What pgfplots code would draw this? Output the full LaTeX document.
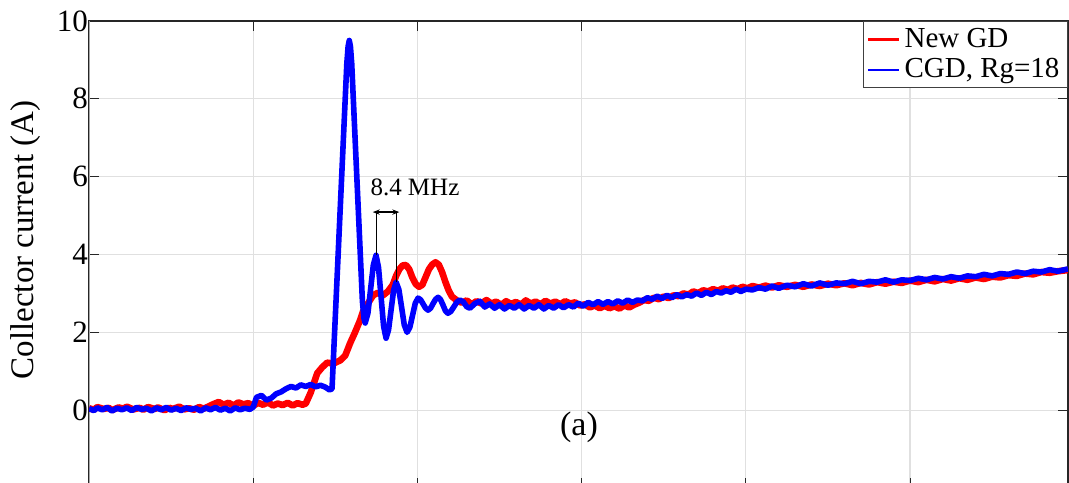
\documentclass[border=0pt]{standalone}
\usepackage{fontspec}
\setmainfont{Liberation Serif}
\usepackage{pgfplots}
\pgfplotsset{compat=1.18}
\usetikzlibrary{arrows.meta}
\definecolor{cNew}{RGB}{255,0,0}
\definecolor{cCGD}{RGB}{0,0,255}
\pgfplotsset{
  matlabish/.style={
    /pgf/number format/assume math mode=true,
    tick label style={font=\rmfamily\fontsize{15.5}{18}\selectfont},
    label style={font=\rmfamily\fontsize{16.5}{19}\selectfont},
    tick align=inside, major tick length=5pt,
    tick style={black!85, line width=0.5pt},
    axis line style={black!85, line width=0.6pt},
    grid=major, grid style={black!12, line width=0.6pt},
  },
}

\begin{document}
\begin{tikzpicture}
\begin{axis}[
    matlabish, name=ax,
    width=489.5pt, height=233.5pt, scale only axis,
    xmin=0, xmax=5.962, ymin=-2, ymax=10,
    xtick={0,1,...,5}, xticklabels={},
    ytick={0,2,...,10},
    yticklabel style={xshift=3pt},
    ylabel={Collector current (A)},
    ylabel style={at={(rel axis cs:-0.081,0.531)}, anchor=north, inner sep=0pt},
    legend style={at={(1,1)}, anchor=north east, draw=black!75, line width=0.5pt,
                  font=\rmfamily\fontsize{14.5}{16}\selectfont, inner xsep=2pt, inner ysep=1.5pt,
                  row sep=0pt, cells={anchor=west}},
    legend image code/.code={\draw[#1, line width=1.1pt] (0pt,0pt) -- (15.5pt,0pt);},
]
\draw[black!35, line width=1pt] (rel axis cs:0,0) -- (rel axis cs:0,1);

% New GD
\addplot[cNew, line width=3.3pt, line join=round] coordinates {
  (0.00,0.05) (0.03,0.01) (0.05,0.08) (0.09,0.03) (0.12,0.06) (0.14,0.00) (0.18,0.07) (0.21,0.04)
  (0.23,0.09) (0.27,0.02) (0.31,0.06) (0.33,0.01) (0.36,0.08) (0.40,0.03) (0.42,0.07) (0.46,0.00)
  (0.49,0.06) (0.51,0.03) (0.55,0.09) (0.58,0.02) (0.61,0.05) (0.64,0.01) (0.67,0.08) (0.70,0.04)
  (0.73,0.10) (0.76,0.16) (0.79,0.21) (0.82,0.14) (0.85,0.19) (0.88,0.12) (0.91,0.20) (0.94,0.15)
  (0.97,0.18) (1.00,0.11) (1.03,0.19) (1.06,0.14) (1.09,0.20) (1.12,0.12) (1.15,0.17) (1.18,0.13)
  (1.21,0.19) (1.24,0.12) (1.27,0.18) (1.30,0.14) (1.32,0.17) (1.35,0.45) (1.39,0.95) (1.42,1.10)
  (1.45,1.22) (1.49,1.20) (1.53,1.28) (1.56,1.40) (1.59,1.72) (1.62,2.00) (1.65,2.30) (1.67,2.55)
  (1.70,2.75) (1.73,2.95) (1.76,3.02) (1.79,2.95) (1.82,3.05) (1.85,3.22) (1.87,3.45) (1.89,3.62)
  (1.91,3.72) (1.93,3.73) (1.95,3.62) (1.97,3.40) (1.99,3.24) (2.01,3.17) (2.03,3.22) (2.05,3.42)
  (2.07,3.62) (2.09,3.74) (2.11,3.80) (2.13,3.74) (2.15,3.55) (2.17,3.30) (2.19,3.08) (2.21,2.92)
  (2.24,2.82) (2.27,2.76) (2.30,2.82) (2.33,2.72) (2.36,2.80) (2.39,2.74) (2.42,2.83) (2.45,2.74)
  (2.48,2.79) (2.51,2.70) (2.54,2.80) (2.57,2.73) (2.60,2.78) (2.63,2.71) (2.66,2.82) (2.69,2.74)
  (2.72,2.79) (2.75,2.72) (2.78,2.81) (2.81,2.74) (2.84,2.79) (2.87,2.72) (2.90,2.80) (2.93,2.74)
  (2.96,2.77) (2.99,2.69) (3.02,2.72) (3.05,2.64) (3.08,2.69) (3.11,2.62) (3.14,2.68) (3.17,2.62)
  (3.20,2.67) (3.23,2.61) (3.26,2.69) (3.29,2.64) (3.32,2.71) (3.35,2.76) (3.38,2.83) (3.41,2.81)
  (3.44,2.89) (3.47,2.85) (3.50,2.92) (3.53,2.88) (3.56,2.95) (3.59,2.93) (3.62,3.00) (3.65,2.97)
  (3.68,3.05) (3.71,3.01) (3.74,3.08) (3.77,3.05) (3.80,3.11) (3.83,3.07) (3.86,3.13) (3.89,3.09)
  (3.92,3.15) (3.95,3.11) (3.98,3.17) (4.01,3.13) (4.04,3.19) (4.08,3.15) (4.12,3.20) (4.16,3.15)
  (4.20,3.21) (4.25,3.17) (4.30,3.22) (4.35,3.17) (4.40,3.23) (4.45,3.19) (4.50,3.25) (4.55,3.21)
  (4.60,3.26) (4.65,3.21) (4.70,3.27) (4.75,3.23) (4.80,3.29) (4.85,3.25) (4.90,3.30) (4.95,3.27)
  (5.00,3.33) (5.05,3.29) (5.10,3.35) (5.15,3.31) (5.20,3.37) (5.25,3.33) (5.30,3.39) (5.35,3.35)
  (5.40,3.41) (5.45,3.37) (5.50,3.43) (5.55,3.41) (5.60,3.47) (5.65,3.45) (5.70,3.51) (5.75,3.49)
  (5.80,3.55) (5.85,3.53) (5.90,3.57) (5.962,3.60)};
\addlegendentry{New GD}

% CGD, Rg=18
\addplot[cCGD, line width=2.8pt, line join=round] coordinates {
  (0.00,0.04) (0.03,-0.01) (0.05,0.06) (0.08,0.01) (0.11,0.07) (0.14,-0.02) (0.17,0.05) (0.20,0.01)
  (0.23,0.06) (0.26,-0.01) (0.29,0.07) (0.32,0.02) (0.35,0.05) (0.38,-0.02) (0.41,0.06) (0.44,0.01)
  (0.47,0.07) (0.50,0.00) (0.53,0.05) (0.56,-0.01) (0.59,0.06) (0.62,0.02) (0.65,0.05) (0.68,-0.02)
  (0.71,0.06) (0.74,0.01) (0.77,0.07) (0.80,0.00) (0.83,0.05) (0.86,-0.02) (0.89,0.06) (0.92,0.01)
  (0.95,0.05) (0.98,0.02) (1.00,0.08) (1.02,0.33) (1.05,0.38) (1.08,0.26) (1.11,0.31) (1.14,0.42)
  (1.17,0.47) (1.20,0.55) (1.23,0.61) (1.26,0.57) (1.29,0.65) (1.32,0.61) (1.35,0.66) (1.38,0.60)
  (1.41,0.64) (1.44,0.59) (1.465,0.52) (1.480,0.55)
  (1.570,8.90) (1.578,9.35) (1.585,9.50) (1.592,9.35) (1.600,8.90)
  (1.665,2.80) (1.675,2.35) (1.682,2.24) (1.6985,2.49) (1.715,3.11) (1.7315,3.73) (1.748,3.98)
  (1.763,3.67) (1.7785,2.92) (1.794,2.16) (1.809,1.85) (1.824,2.06) (1.8395,2.57) (1.855,3.08)
  (1.870,3.29) (1.887,3.10) (1.9035,2.65) (1.920,2.19) (1.937,2.00) (1.954,2.13) (1.9705,2.44)
  (1.987,2.75) (2.004,2.88) (2.019,2.84) (2.0345,2.73) (2.050,2.62) (2.065,2.57) (2.080,2.62)
  (2.0955,2.74) (2.111,2.85) (2.126,2.90) (2.141,2.84) (2.156,2.70) (2.171,2.55) (2.186,2.49)
  (2.204,2.54) (2.2225,2.66) (2.241,2.78) (2.259,2.83) (2.28,2.78) (2.30,2.66) (2.32,2.62)
  (2.35,2.74) (2.38,2.80) (2.41,2.65) (2.44,2.73) (2.47,2.62) (2.50,2.71) (2.53,2.60) (2.56,2.69)
  (2.59,2.62) (2.62,2.71) (2.65,2.60) (2.68,2.69) (2.71,2.62) (2.74,2.71) (2.77,2.60) (2.80,2.69)
  (2.83,2.62) (2.86,2.71) (2.89,2.63) (2.92,2.71) (2.95,2.65) (2.98,2.75) (3.01,2.67) (3.04,2.77)
  (3.07,2.71) (3.10,2.79) (3.13,2.72) (3.16,2.79) (3.19,2.73) (3.22,2.81) (3.25,2.75) (3.28,2.83)
  (3.31,2.77) (3.34,2.83) (3.37,2.81) (3.40,2.89) (3.43,2.85) (3.46,2.93) (3.49,2.87) (3.52,2.95)
  (3.55,2.89) (3.58,2.97) (3.61,2.91) (3.64,2.97) (3.67,2.93) (3.70,3.01) (3.73,2.95) (3.76,3.03)
  (3.79,2.97) (3.82,3.05) (3.85,3.01) (3.88,3.07) (3.91,3.03) (3.94,3.11) (3.97,3.05) (4.00,3.11)
  (4.04,3.09) (4.08,3.15) (4.12,3.11) (4.16,3.19) (4.20,3.13) (4.25,3.21) (4.30,3.17) (4.35,3.25)
  (4.40,3.19) (4.45,3.27) (4.50,3.21) (4.55,3.27) (4.60,3.25) (4.65,3.31) (4.70,3.25) (4.75,3.31)
  (4.80,3.29) (4.85,3.35) (4.90,3.29) (4.95,3.35) (5.00,3.33) (5.05,3.39) (5.10,3.35) (5.15,3.41)
  (5.20,3.37) (5.25,3.43) (5.30,3.39) (5.35,3.45) (5.40,3.43) (5.45,3.49) (5.50,3.45) (5.55,3.51)
  (5.60,3.49) (5.65,3.55) (5.70,3.51) (5.75,3.57) (5.80,3.55) (5.85,3.61) (5.90,3.57) (5.962,3.63)};
\addlegendentry{CGD, Rg=18}

% ringing period annotation
\draw[black, line width=0.5pt] (axis cs:1.748,5.09) -- (axis cs:1.748,3.98);
\draw[black, line width=0.5pt] (axis cs:1.870,5.09) -- (axis cs:1.870,3.29);
\draw[{Stealth[length=3.5pt]}-{Stealth[length=3.5pt]}, line width=0.6pt]
  (axis cs:1.728,5.09) -- (axis cs:1.890,5.09);
\node[font=\rmfamily\fontsize{12.5}{14}\selectfont] at (axis cs:1.985,5.72) {8.4 MHz};
\node[font=\rmfamily\fontsize{17}{19}\selectfont] at (axis cs:2.984,-0.44) {(a)};
\end{axis}
\pgfresetboundingbox
\path[use as bounding box] ([shift={(-44.5pt,3pt)}]ax.south west) rectangle ([shift={(0.5pt,10.5pt)}]ax.north east);
\end{tikzpicture}
\end{document}
